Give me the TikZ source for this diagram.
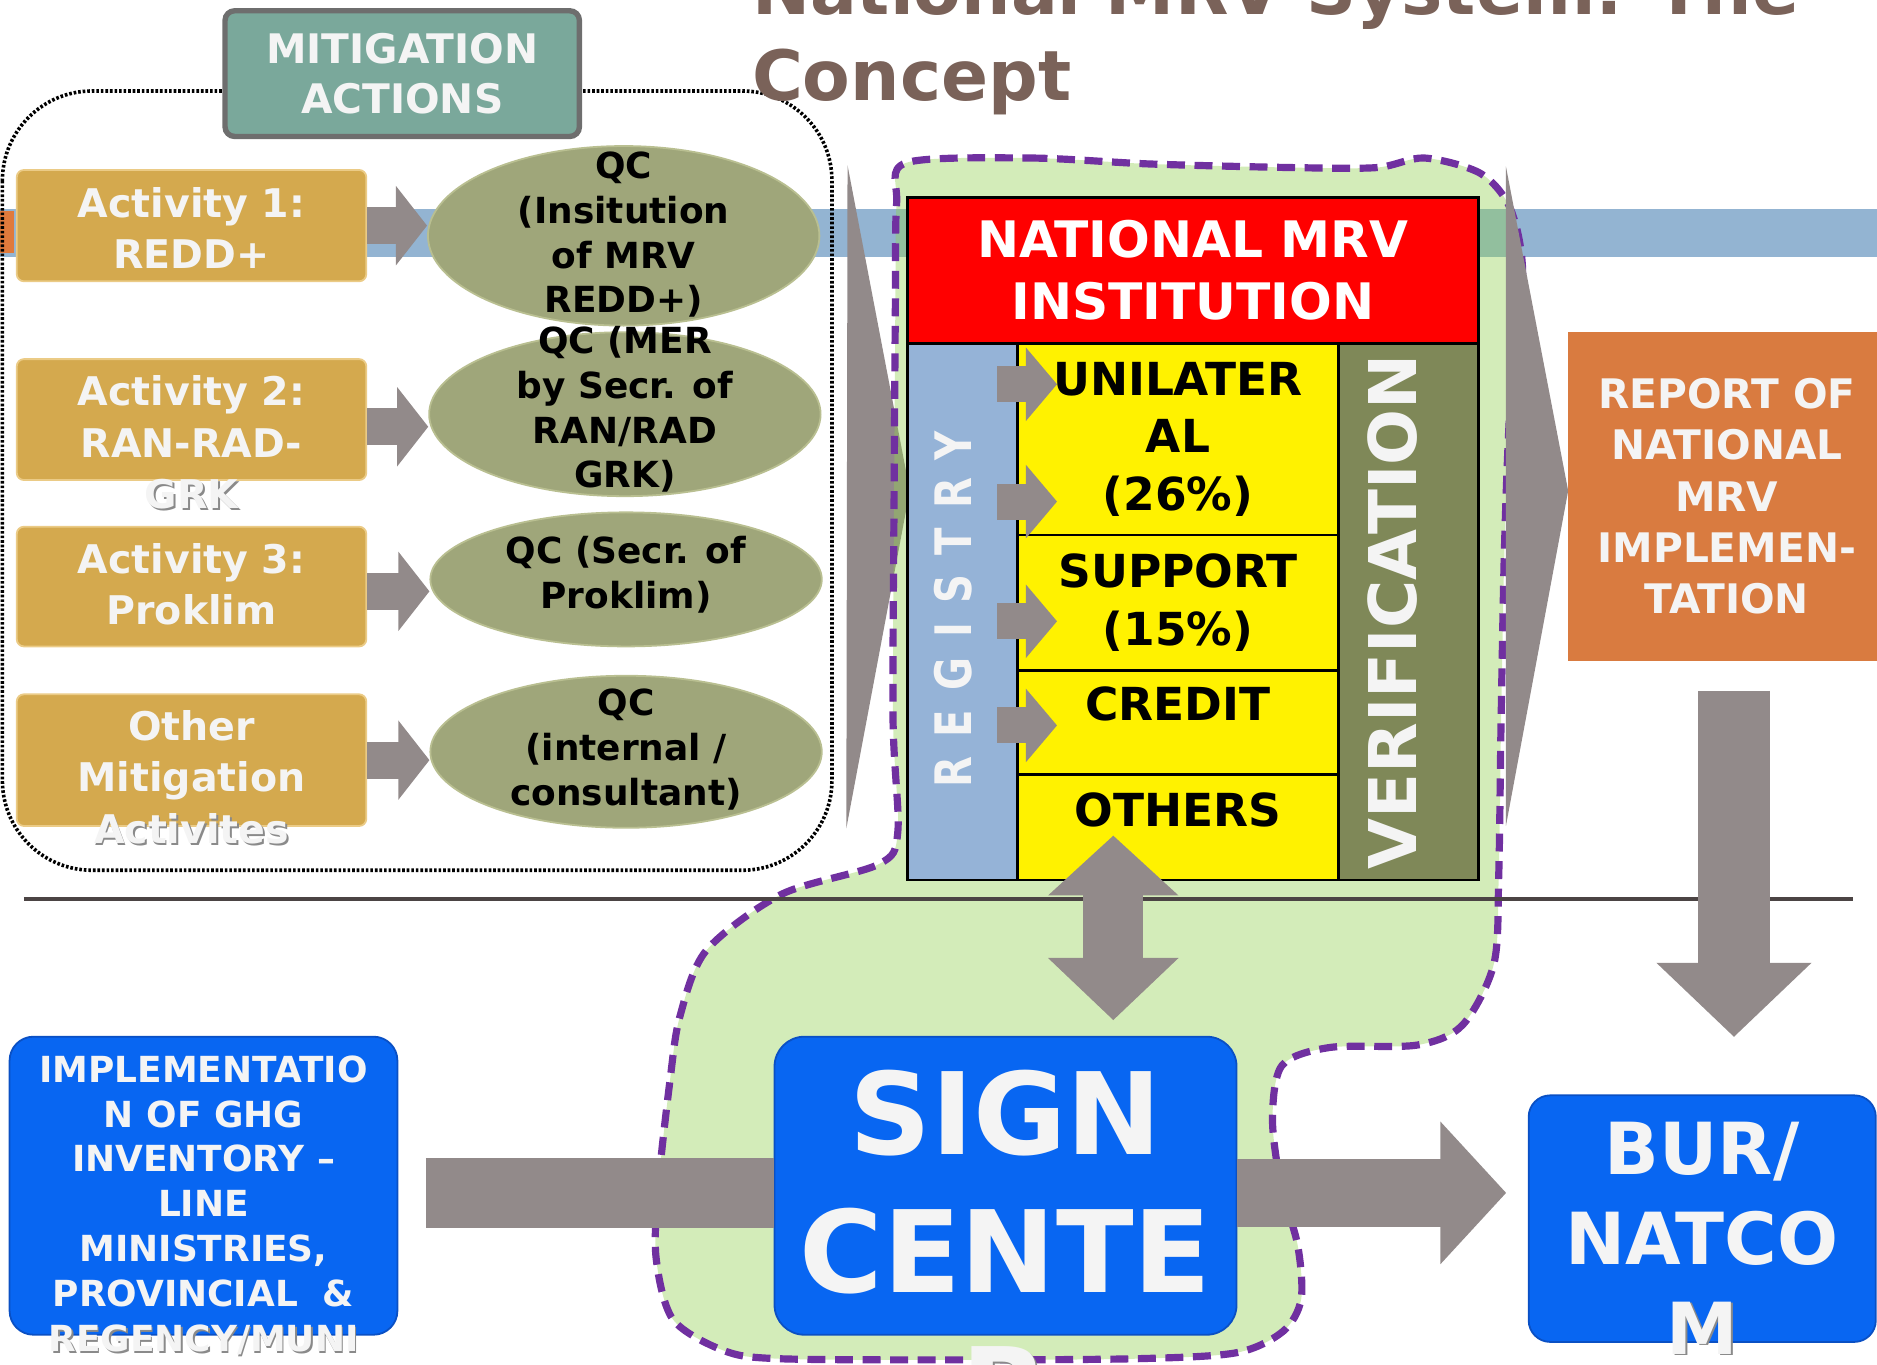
\documentclass[tikz,border=0pt]{standalone}
\usepackage{fontspec}
\setmainfont{DejaVu Sans}
\usepackage{graphicx}
\usetikzlibrary{shapes.geometric,arrows.meta}
\definecolor{bandblue}{HTML}{93B4D2}
\definecolor{bandorange}{HTML}{E07A3C}
\definecolor{goldbox}{HTML}{D4A94E}
\definecolor{goldedge}{HTML}{EBCB86}
\definecolor{qcolive}{HTML}{9FA67A}
\definecolor{qcedge}{HTML}{B9BF91}
\definecolor{tealbox}{HTML}{7AA89B}
\definecolor{tealedge}{HTML}{6E6E6E}
\definecolor{arrowgray}{HTML}{928A8A}
\definecolor{lightgreen}{HTML}{92D050}
\definecolor{dashpurple}{HTML}{7030A0}
\definecolor{regblue}{HTML}{95B3D7}
\definecolor{verolive}{HTML}{7F8858}
\definecolor{reportorange}{HTML}{D97B40}
\definecolor{boxblue}{HTML}{0866F2}
\definecolor{boxblueedge}{HTML}{0A50C4}
\definecolor{titlebrown}{HTML}{7A6259}
\definecolor{rulegray}{HTML}{4B4444}
\definecolor{textwhite}{HTML}{F4F4F4}
\definecolor{shadowgray}{HTML}{8A8A8A}
\newcommand\shadowed[1]{\leavevmode\rlap{\kern1.5pt\raisebox{-1.5pt}{\color{shadowgray}#1}}#1}
\begin{document}
\begin{tikzpicture}[x=1pt, y=-1pt,
act box/.style={rectangle,fill=goldbox,draw=goldedge,line width=1.5pt,rounded corners=6pt,minimum width=292pt,inner sep=0pt},
act text/.style={text=textwhite,font=\fontsize{33}{43}\selectfont\bfseries,align=center,inner sep=0pt},
qc node/.style={ellipse,fill=qcolive,draw=qcedge,line width=1.5pt,minimum width=327pt,inner sep=0pt},
qc text/.style={font=\fontsize{30}{37.5}\selectfont\bfseries,align=center,inner sep=0pt},
small arrow/.style={draw=arrowgray,line width=31pt,-{Triangle[length=26pt,width=65pt]}},
cell/.style={rectangle,draw=black,line width=2pt,inner sep=0pt},
cell text/.style={font=\fontsize{38}{48}\selectfont\bfseries,align=center},
blue box/.style={rectangle,fill=boxblue,draw=boxblueedge,line width=1.5pt,inner sep=0pt},
white text/.style={text=textwhite,align=center,inner sep=0pt}]
\useasboundingbox (0,0) rectangle (1568,1140);
% background band and dotted frame
\fill[bandblue] (0,175) rectangle (1568,215);
\fill[bandorange] (0,176) rectangle (12,211);
\draw[line width=3pt,dash pattern=on 2.2pt off 1.6pt,rounded corners=75pt] (2,76) rectangle (695,727);
\fill[arrowgray] (708,138) -- (760,410) -- (707,692) -- cycle;
% green MRV area
\draw[dashpurple,line width=6pt,dash pattern=on 15pt off 8pt,fill=lightgreen,fill opacity=0.4]
  plot[smooth cycle,tension=0.5] coordinates {(757,136) (860,132) (961,137) (1080,140) (1150,140) (1190,132)
  (1237,145) (1262,175) (1272,230) (1262,330) (1257,450) (1254,600) (1252,731) (1248,805) (1222,856)
  (1184,873) (1111,875) (1071,890) (1063,935) (1070,990) (1084,1040) (1087,1085) (1072,1112) (1033,1130)
  (950,1135) (800,1136) (650,1135) (604,1128) (562,1102) (548,1050) (550,990) (560,900) (568,849)
  (590,794) (653,747) (734,722) (750,695) (746,600) (747,400) (748,250) (749,170)};
\fill[arrowgray] (1258,139) -- (1310,410) -- (1258,690) -- cycle;
\draw[rulegray,line width=4pt] (20,751) -- (1548,751);
% title
\node[anchor=base west,align=left,inner sep=0pt,text=titlebrown,font=\fontsize{58}{71.5}\selectfont\bfseries] (title) at (628,84) {National MRV System: The\\Concept};
% mitigation actions
\node[rectangle,fill=tealbox,draw=tealedge,line width=4.5pt,rounded corners=8pt,minimum width=296pt,minimum height=105pt,white text,font=\fontsize{34}{42}\selectfont\bfseries] (mit) at (336,61.5) {MITIGATION\\ACTIONS};
\node[act box,minimum height=93pt] (act1) at (160,188.5) {};
\node[act box,minimum height=101pt] (act2) at (160,350.5) {};
\node[act box,minimum height=100pt] (act3) at (160,490) {};
\node[act box,minimum height=110pt] (act4) at (160,635) {};
\node[act text] (act1t) at ([yshift=-2pt]act1.center) {Activity 1:\\REDD+};
\node[act text] (act2t) at ([yshift=-20pt]act2.center) {Activity 2:\\RAN-RAD-\\\shadowed{GRK}};
\node[act text] (act3t) at ([yshift=2pt]act3.center) {Activity 3:\\Proklim};
\node[act text] (act4t) at ([yshift=-15pt]act4.center) {Other\\Mitigation\\\shadowed{Activites}};
\node[qc node,minimum height=150pt] (qc1) at (521,197) {};
\node[qc node,minimum height=137pt] (qc2) at (522,346) {};
\node[qc node,minimum height=112pt] (qc3) at (523,484) {};
\node[qc node,minimum height=127pt] (qc4) at (523,628) {};
\node[qc text] (qc1t) at ([yshift=1pt]qc1.center) {QC\\(Insitution\\of MRV\\REDD+)};
\node[qc text] (qc2t) at ([yshift=4pt]qc2.center) {QC (MER\\by Secr. of\\RAN/RAD\\GRK)};
\node[qc text] (qc3t) at ([yshift=4pt]qc3.center) {QC (Secr. of\\Proklim)};
\node[qc text] (qc4t) at ([yshift=2pt]qc4.center) {QC\\(internal /\\consultant)};
\draw[small arrow] (act1.east) -- (act1.east -| qc1.west);
\draw[small arrow] ([yshift=-6pt]act2.east) -- ([yshift=-6pt]act2.east -| qc2.west);
\draw[small arrow] ([yshift=-4pt]act3.east) -- ([yshift=-4pt]act3.east -| qc3.west);
\draw[small arrow] (act4.east) -- (act4.east -| qc4.west);
% national MRV institution
\node[cell,fill=red,minimum width=477pt,minimum height=122pt,text=white,font=\fontsize{42}{52}\selectfont\bfseries,align=center] (mrv) at (996.5,226) {NATIONAL MRV\\INSTITUTION};
\node[cell,fill=regblue,minimum width=92pt,minimum height=448pt] (reg) at (804,511) {};
\node[cell,fill=yellow,minimum width=268pt,minimum height=160pt,cell text] (unil) at (984,367) {UNILATER\\AL\\(26\%)};
\node[cell,fill=yellow,minimum width=268pt,minimum height=113pt,cell text] (supp) at (984,503.5) {SUPPORT\\(15\%)};
\node[cell,fill=yellow,minimum width=268pt,minimum height=87pt,cell text,text depth=31pt] (cred) at (984,603.5) {CREDIT};
\node[cell,fill=yellow,minimum width=268pt,minimum height=88pt,cell text,text depth=30pt] (oth) at (984,691) {OTHERS};
\node[cell,fill=verolive,minimum width=117pt,minimum height=448pt] (ver) at (1176.5,511) {};
\node[white text,rotate=90,font=\fontsize{42}{42}\selectfont\bfseries\addfontfeature{LetterSpace=48}] (regt) at (796,509) {\scalebox{0.8}[1]{REGISTRY}};
\node[white text,rotate=90,font=\fontsize{55}{55}\selectfont\bfseries] (vert) at (1163,511) {VERIFICATION};
\foreach \i/\y in {1/321,2/419,3/519,4/606} {
  \coordinate (rs\i) at (833,\y);
  \draw[draw=arrowgray,line width=30pt,-{Triangle[length=26pt,width=60pt]}] (rs\i) -- ++(50,0);
}
% report and outputs
\node[rectangle,fill=reportorange,minimum width=265pt,minimum height=275pt,white text,font=\fontsize{34}{43}\selectfont\bfseries] (report) at (1442.5,414.5) {REPORT OF\\NATIONAL\\MRV\\IMPLEMEN-\\TATION};
\node[blue box,rounded corners=20pt,minimum width=324pt,minimum height=249pt] (impl) at (170,990.5) {};
\node[white text,font=\fontsize{30}{37.5}\selectfont\bfseries] (implt) at ([yshift=-17pt]impl.center) {IMPLEMENTATIO\\N OF GHG\\INVENTORY --\\LINE\\MINISTRIES,\\PROVINCIAL \ \&\\\shadowed{REGENCY/MUNI}};
\node[blue box,rounded corners=25pt,minimum width=386pt,minimum height=249pt] (sign) at (840,990.5) {};
\node[white text,font=\fontsize{95}{115}\selectfont\bfseries] (signt) at ([yshift=-54.5pt]sign.center) {SIGN\\CENTE\\\shadowed{R}};
\node[blue box,rounded corners=18pt,minimum width=290pt,minimum height=206pt] (bur) at (1422,1018) {};
\node[white text,font=\fontsize{60}{75}\selectfont\bfseries] (burt) at ([yshift=-17pt]bur.center) {BUR/\\NATCO\\\shadowed{M}};
\draw[arrowgray,line width=58pt,shorten <=23pt] ([yshift=-6pt]impl.east) -- ([yshift=-6pt]sign.west);
\draw[arrowgray,line width=57pt,-{Triangle[length=55pt,width=116pt]},shorten >=18pt] ([yshift=-6pt]sign.east) -- ([yshift=-6pt]sign.east -| bur.west);
\draw[arrowgray,line width=60pt,-{Triangle[length=62pt,width=126pt]},shorten <=25pt,shorten >=48pt] ([xshift=6pt]report.south) -- ([xshift=6pt]report.south |- bur.north);
\draw[arrowgray,line width=50pt,{Triangle[length=50pt,width=106pt]}-{Triangle[length=52pt,width=106pt]},shorten <=-38pt,shorten >=13pt] ([xshift=-54pt]oth.south) -- ([xshift=-54pt]oth.south |- sign.north);
\end{tikzpicture}
\end{document}
